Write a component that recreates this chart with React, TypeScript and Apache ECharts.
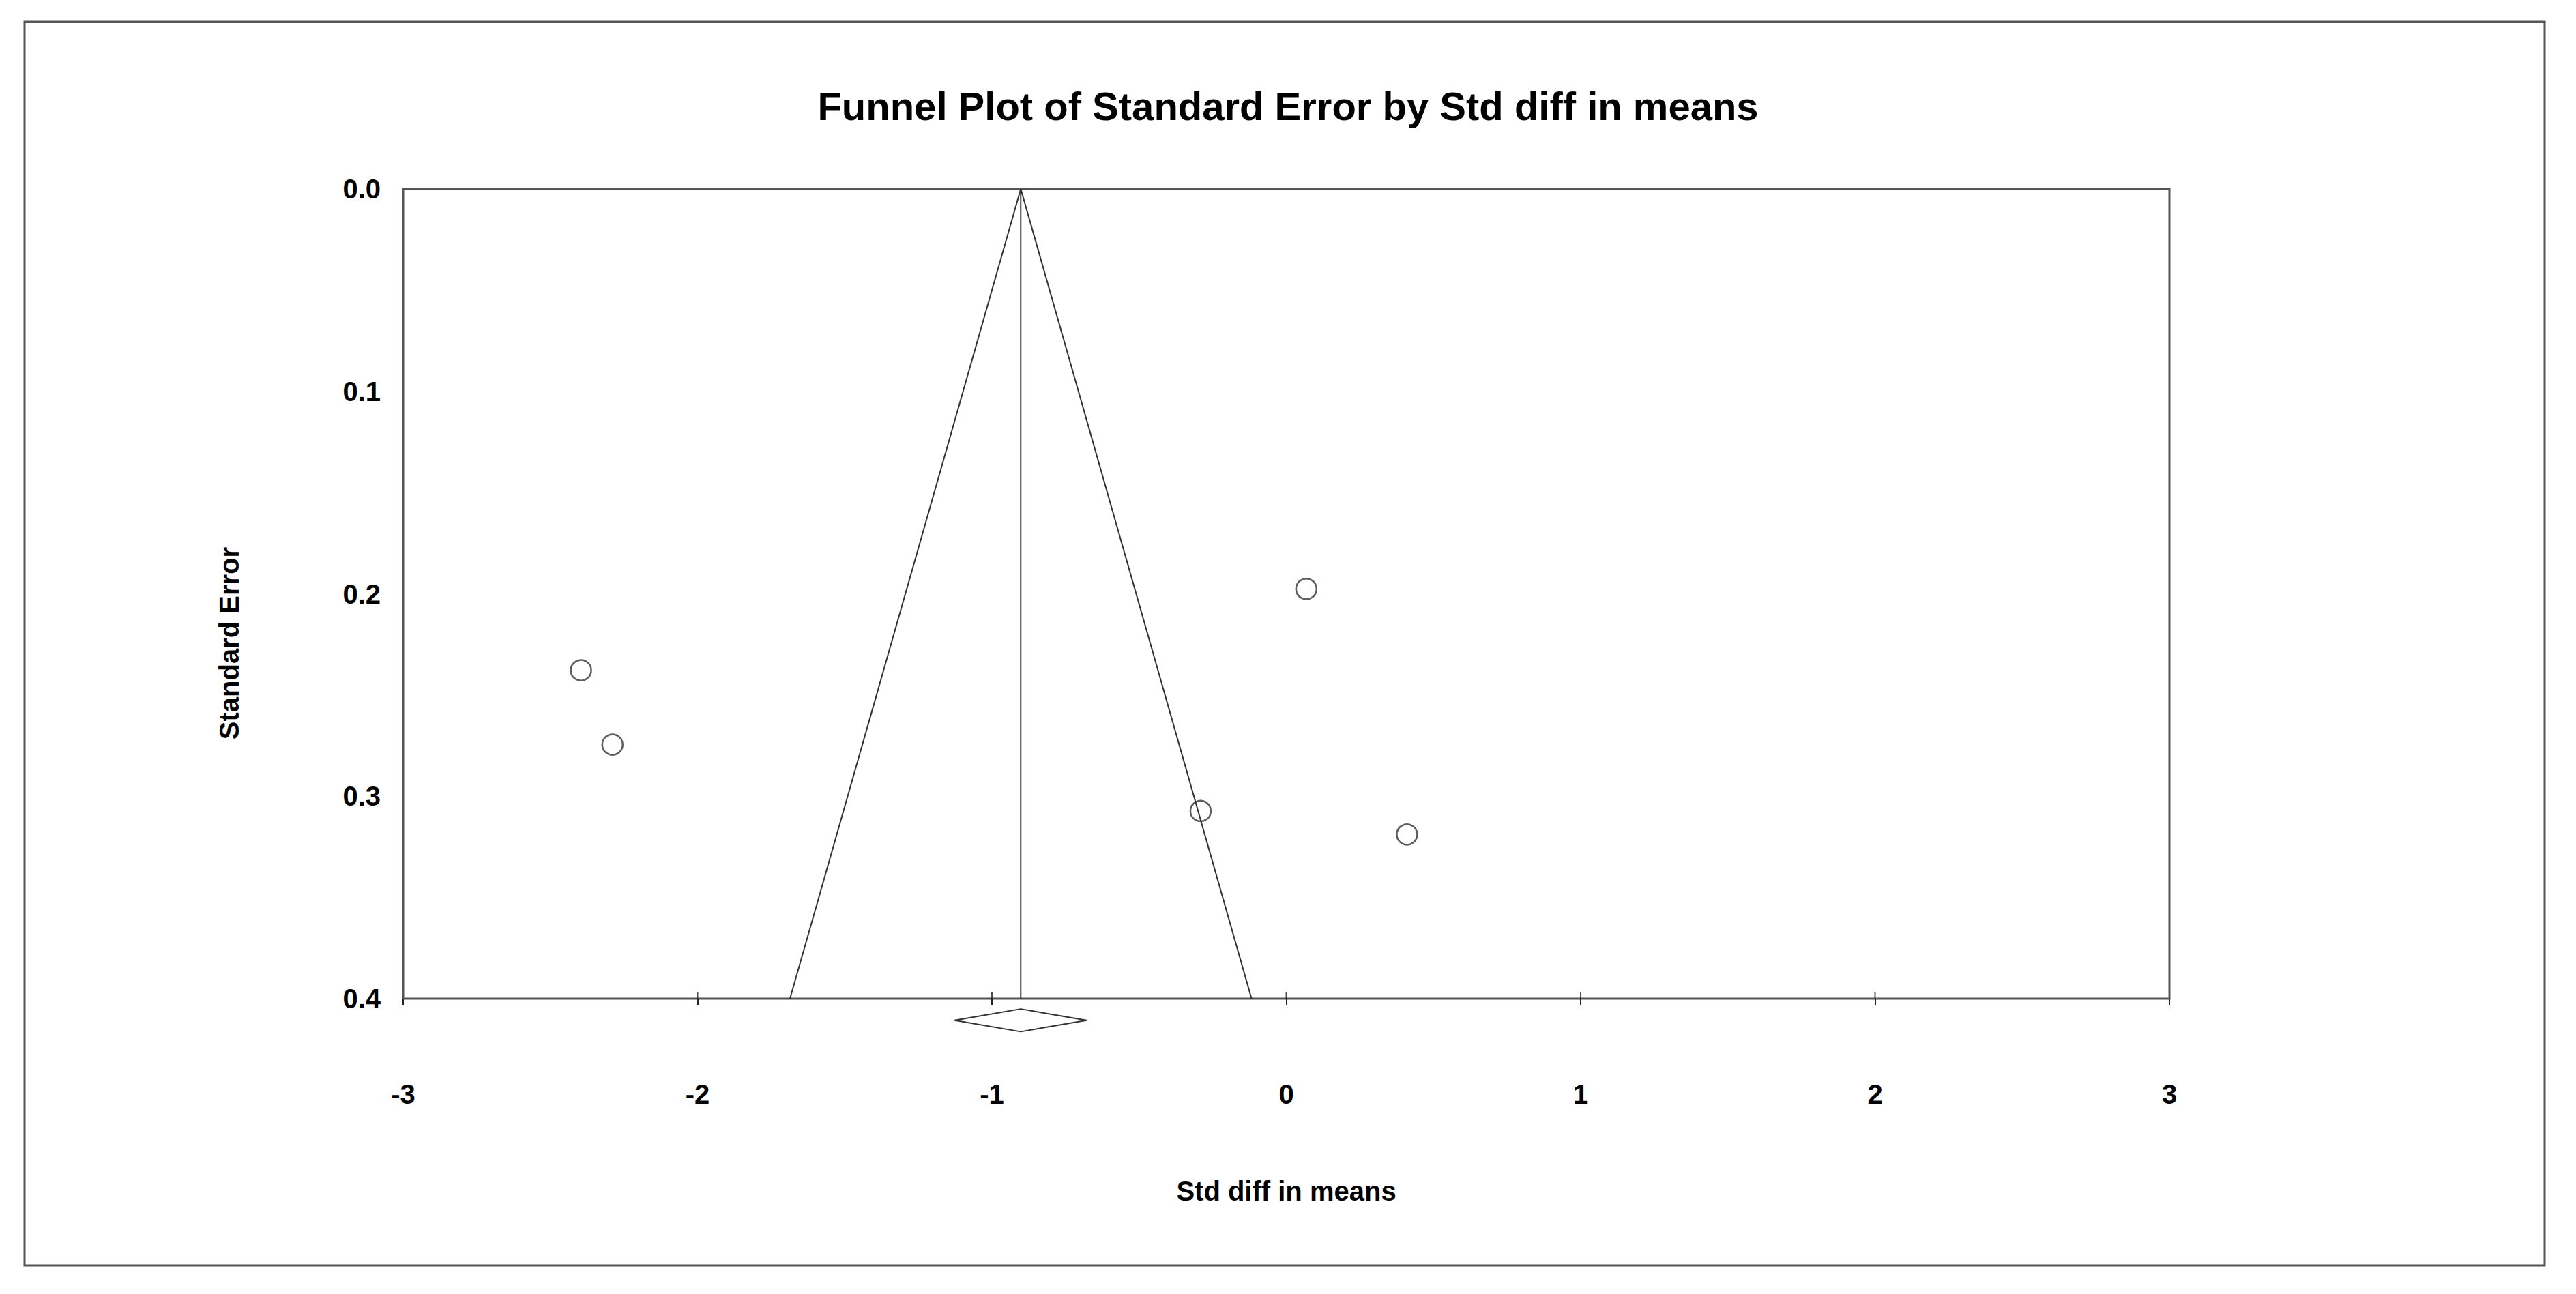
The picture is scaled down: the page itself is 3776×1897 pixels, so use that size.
import React, { useEffect, useRef } from "react";
import * as echarts from "echarts";

// Data
const studyEffects = [-2.396, -2.289, 0.068, -0.291, 0.41];
const studySE = [0.2378, 0.2745, 0.1976, 0.3073, 0.3189];
const meanEffect = -0.902;
const funnelBottomLeft = -1.686;
const funnelBottomRight = -0.118;
const seMax = 0.4;
const ciLow = -1.127;
const ciHigh = -0.678;
const diamondY = 0.4107;
const diamondHalf = 0.0056;
const xTicks = [-3, -2, -1, 0, 1, 2, 3];
const innerTicks = [-2, -1, 0, 1, 2];
const yTicks = [0.0, 0.1, 0.2, 0.3, 0.4];

const FONT = "'Liberation Sans', Arial, sans-serif";

export default function App() {
  const ref = useRef<HTMLDivElement>(null);
  useEffect(() => {
    if (!ref.current) return;
    const chart = echarts.init(ref.current, null, { renderer: "svg" });
    chart.setOption({
      animation: false,
      backgroundColor: "#ffffff",
      title: {
        text: "Funnel Plot of Standard Error by Std diff in means",
        left: "center",
        top: 121,
        textStyle: { fontFamily: FONT, fontWeight: "bold", fontSize: 58, color: "#000" },
      },
      graphic: [
        {
          type: "rect",
          shape: { x: 36, y: 32, width: 3694, height: 1823 },
          style: { fill: "none", stroke: "#555", lineWidth: 3 },
          silent: true,
        },
        {
          type: "text",
          x: 336,
          y: 943,
          rotation: Math.PI / 2,
          style: {
            text: "Standard Error",
            font: `bold 40px ${FONT}`,
            fill: "#000",
            align: "center",
            verticalAlign: "middle",
          },
        },
      ],
      grid: {
        left: 591,
        right: 596,
        top: 277,
        bottom: 433,
        show: true,
        borderColor: "#555",
        borderWidth: 3,
        backgroundColor: "transparent",
      },
      xAxis: {
        type: "value",
        min: xTicks[0],
        max: xTicks[xTicks.length - 1],
        interval: 1,
        position: "bottom",
        splitLine: { show: false },
        axisLine: { show: false, onZero: false },
        name: "Std diff in means",
        nameLocation: "middle",
        nameGap: 262,
        nameTextStyle: { fontFamily: FONT, fontWeight: "bold", fontSize: 40, color: "#000" },
        axisTick: {
          show: true,
          inside: false,
          length: 9,
          interval: (_i: number, v: any) => innerTicks.indexOf(Number(v)) >= 0,
          lineStyle: { color: "#222", width: 2 },
        },
        axisLabel: {
          margin: 120,
          fontFamily: FONT,
          fontWeight: "bold",
          fontSize: 40,
          color: "#000",
          formatter: (v: number) => String(v),
        },
      },
      yAxis: {
        type: "value",
        inverse: true,
        min: yTicks[0],
        max: yTicks[yTicks.length - 1],
        interval: 0.1,
        splitLine: { show: false },
        axisLine: { show: false, onZero: false },
        axisTick: { show: false },
        axisLabel: {
          margin: 33,
          fontFamily: FONT,
          fontWeight: "bold",
          fontSize: 40,
          color: "#000",
          formatter: (v: number) => v.toFixed(1),
        },
      },
      series: [
        {
          type: "line",
          data: [
            [funnelBottomLeft, seMax],
            [meanEffect, 0],
            [funnelBottomRight, seMax],
          ],
          symbol: "none",
          lineStyle: { color: "#333", width: 2 },
          silent: true,
        },
        {
          type: "line",
          data: [
            [meanEffect, 0],
            [meanEffect, seMax],
          ],
          symbol: "none",
          lineStyle: { color: "#333", width: 2 },
          silent: true,
        },
        {
          type: "line",
          clip: false,
          data: [
            [ciLow, diamondY],
            [meanEffect, diamondY - diamondHalf],
            [ciHigh, diamondY],
            [meanEffect, diamondY + diamondHalf],
            [ciLow, diamondY],
          ],
          symbol: "none",
          lineStyle: { color: "#333", width: 2 },
          silent: true,
        },
        {
          // upper half of the x-axis ticks, which cross the axis line
          type: "scatter",
          clip: false,
          silent: true,
          data: innerTicks.map((t) => [t, seMax]),
          symbol: "rect",
          symbolSize: [2, 9],
          symbolOffset: [0, -4.5],
          itemStyle: { color: "#222" },
        },
        {
          type: "scatter",
          data: studyEffects.map((x, i) => [x, studySE[i]]),
          symbol: "circle",
          symbolSize: 30,
          itemStyle: { color: "#fff", borderColor: "#333", borderWidth: 2.5 },
        },
      ],
    });
    return () => chart.dispose();
  }, []);
  return (
    <div
      ref={ref}
      style={{ position: "fixed", left: 0, top: 0, width: 3776, height: 1897, background: "#fff" }}
    />
  );
}
